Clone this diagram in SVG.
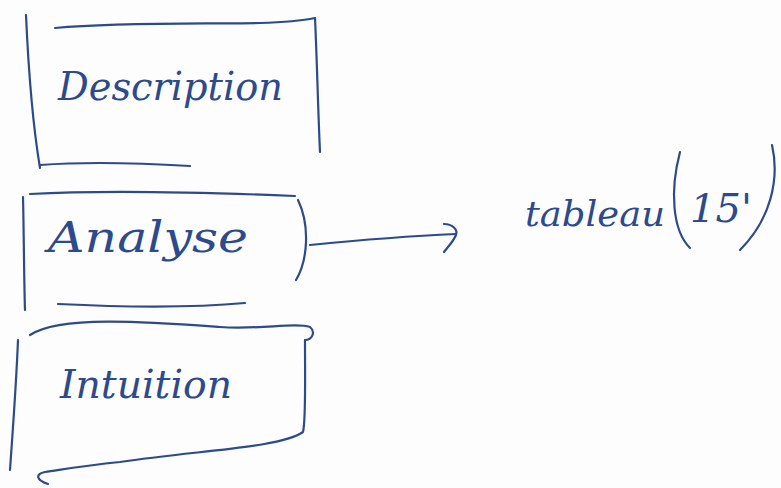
<svg xmlns="http://www.w3.org/2000/svg" width="781" height="488" viewBox="0 0 781 488">
<style>
.ink{fill:none;stroke:#2c4a8c;stroke-width:2.2;stroke-linecap:round;stroke-linejoin:round}
.t{font-family:"DejaVu Serif","Liberation Serif",serif;font-style:italic;fill:#2c4a8c}
</style>
<rect width="781" height="488" fill="#fdfdfd"/>
<g id="description">
<path class="ink" d="M26,15 C28,60 32,120 40,168"/>
<path class="ink" d="M55,28 C120,22 200,24 260,23 C290,22 305,20 315,18"/>
<path class="ink" d="M315,18 C317,60 318,110 320,152"/>
<path class="ink" d="M40,165 C80,162 140,163 190,166"/>
<text class="t" x="58" y="100" font-size="40" textLength="225" lengthAdjust="spacingAndGlyphs">Description</text>
</g>
<g id="analyse">
<path class="ink" d="M30,194 C100,190 200,192 295,196"/>
<path class="ink" d="M23,197 C24,240 24,280 25,310"/>
<path class="ink" d="M298,200 C310,225 308,260 296,280"/>
<path class="ink" d="M58,304 C120,307 190,308 245,303"/>
<text class="t" x="48" y="252" font-size="42" textLength="200" lengthAdjust="spacingAndGlyphs">Analyse</text>
</g>
<g id="intuition">
<path class="ink" d="M30,335 C60,315 150,322 220,327 C260,330 295,322 310,327 C316,332 312,340 305,340"/>
<path class="ink" d="M18,340 C16,390 12,440 10,470"/>
<path class="ink" d="M305,340 C305,380 306,420 303,432 C280,448 200,450 120,462 C80,466 60,470 45,472 C35,474 36,480 48,484"/>
<text class="t" x="60" y="398" font-size="40" textLength="172" lengthAdjust="spacingAndGlyphs">Intuition</text>
</g>
<g id="tableau">
<text class="t" x="525" y="226" font-size="36" textLength="140" lengthAdjust="spacingAndGlyphs">tableau</text>
<path class="ink" d="M680,152 C670,190 672,230 690,248"/>
<text class="t" x="690" y="222" font-size="40">15'</text>
<path class="ink" d="M772,145 C780,180 770,220 740,250"/>
</g>
<g id="connectors">
<path class="ink" d="M310,245 C360,240 410,236 456,234"/>
<path class="ink" d="M444,224 C452,224 458,229 456,235 C453,242 447,248 444,252"/>
</g>
</svg>
